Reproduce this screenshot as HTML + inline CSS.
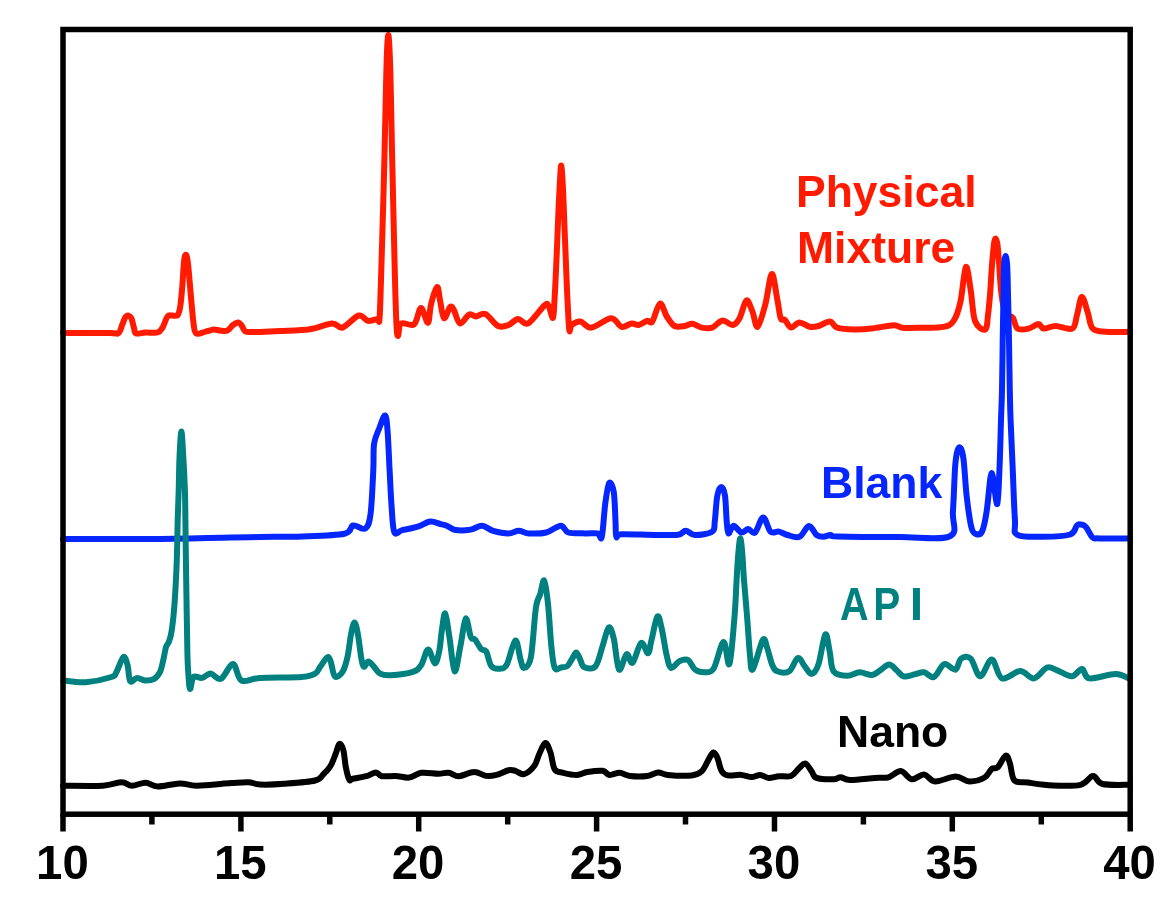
<!DOCTYPE html>
<html><head><meta charset="utf-8"><style>
html,body{margin:0;padding:0;background:#fff;width:1168px;height:915px;overflow:hidden}
svg{display:block;filter:blur(0.5px)}
</style></head><body>
<svg width="1168" height="915" viewBox="0 0 1168 915">
<rect width="1168" height="915" fill="#fff"/>
<path d="M63.0,333.0 C70.8,333.0 100.8,333.0 110.0,333.0 C119.2,333.0 116.4,334.5 118.5,333.0 C120.6,331.5 121.3,326.7 122.5,324.0 C123.7,321.3 124.5,318.4 125.5,317.0 C126.5,315.6 127.5,315.2 128.5,315.5 C129.5,315.8 130.6,316.4 131.5,318.5 C132.4,320.6 133.2,325.5 134.0,328.0 C134.8,330.5 134.1,332.8 136.0,333.5 C137.9,334.2 142.0,332.7 145.6,332.5 C149.2,332.3 154.8,333.4 157.6,332.5 C160.4,331.6 161.0,330.0 162.7,327.3 C164.3,324.6 165.9,318.5 167.5,316.5 C169.1,314.5 170.3,315.7 172.0,315.5 C173.7,315.3 176.2,316.6 177.5,315.3 C178.8,314.1 179.2,312.2 180.0,308.0 C180.8,303.8 181.3,297.7 182.0,290.0 C182.7,282.3 183.4,267.9 184.0,262.0 C184.6,256.1 185.2,254.8 185.8,254.8 C186.4,254.8 187.0,255.9 187.8,262.0 C188.6,268.1 189.6,281.4 190.5,291.4 C191.4,301.4 192.5,315.2 193.4,322.2 C194.3,329.2 194.1,331.7 196.1,333.3 C198.1,334.9 202.6,332.2 205.5,331.6 C208.4,331.0 211.3,329.7 213.7,329.5 C216.1,329.3 217.7,330.3 220.0,330.5 C222.3,330.7 225.2,331.4 227.4,330.5 C229.6,329.6 231.2,326.3 233.0,325.0 C234.8,323.7 236.9,322.3 238.4,322.5 C239.9,322.7 240.9,324.5 242.0,326.0 C243.1,327.5 243.5,330.3 245.2,331.3 C246.9,332.3 249.5,331.9 252.0,332.0 C254.5,332.1 255.3,332.2 260.0,332.0 C264.7,331.8 271.7,331.4 280.0,331.0 C288.3,330.6 301.3,330.6 310.0,329.3 C318.7,328.0 326.6,323.7 332.0,323.4 C337.4,323.1 338.1,328.9 342.5,327.6 C346.9,326.3 354.4,316.6 358.7,315.5 C362.9,314.4 364.9,320.2 368.0,320.8 C371.1,321.4 375.7,319.3 377.6,319.0 C379.5,318.7 378.9,325.5 379.5,319.0 C380.1,312.5 380.3,301.5 381.0,280.0 C381.7,258.5 383.0,211.7 383.6,190.0 C384.2,168.3 384.3,163.3 384.6,150.0 C384.9,136.7 385.2,123.3 385.5,110.0 C385.8,96.7 386.1,80.5 386.4,70.0 C386.7,59.5 386.9,52.8 387.2,47.0 C387.5,41.2 387.9,35.0 388.3,35.0 C388.7,35.0 389.1,41.2 389.4,47.0 C389.7,52.8 390.0,59.5 390.3,70.0 C390.6,80.5 390.9,96.7 391.2,110.0 C391.5,123.3 391.7,136.7 392.0,150.0 C392.3,163.3 392.4,168.3 392.9,190.0 C393.4,211.7 394.4,257.5 395.0,280.0 C395.6,302.5 396.0,315.7 396.5,325.0 C397.0,334.3 397.3,336.2 398.1,336.0 C398.9,335.8 398.4,325.4 401.1,323.5 C403.8,321.6 410.8,326.9 414.1,324.3 C417.4,321.7 418.7,308.2 421.0,308.0 C423.3,307.8 426.2,323.4 427.9,322.8 C429.6,322.2 429.5,310.4 431.0,304.4 C432.5,298.4 435.6,287.6 437.1,287.0 C438.6,286.4 439.0,295.4 440.1,300.6 C441.2,305.8 442.3,317.1 444.0,318.2 C445.7,319.3 448.5,308.4 450.1,307.0 C451.8,305.6 452.2,307.2 453.9,310.0 C455.5,312.8 457.4,322.8 460.0,323.5 C462.6,324.2 466.5,315.6 469.2,314.4 C471.9,313.2 473.3,316.6 476.0,316.5 C478.7,316.4 481.7,312.4 485.4,314.0 C489.1,315.6 494.3,324.2 498.2,326.0 C502.1,327.8 505.2,326.2 508.5,325.0 C511.8,323.8 514.7,319.3 518.0,319.0 C521.3,318.7 523.8,325.7 528.2,323.4 C532.6,321.1 541.1,308.3 544.5,305.4 C547.9,302.5 547.3,304.1 548.7,306.2 C550.1,308.3 552.0,319.0 553.0,318.0 C554.0,317.0 554.0,307.2 554.5,300.0 C555.0,292.8 555.3,285.0 555.8,275.0 C556.3,265.0 556.8,251.7 557.3,240.0 C557.8,228.3 558.2,215.0 558.7,205.0 C559.2,195.0 559.6,186.6 560.0,180.0 C560.4,173.4 560.8,165.5 561.2,165.5 C561.6,165.5 562.1,173.4 562.5,180.0 C562.9,186.6 563.3,195.0 563.7,205.0 C564.1,215.0 564.5,228.3 565.0,240.0 C565.5,251.7 566.0,265.0 566.4,275.0 C566.8,285.0 567.0,290.8 567.5,300.0 C568.0,309.2 568.6,325.8 569.3,330.0 C570.0,334.2 569.9,326.4 571.8,325.0 C573.6,323.6 577.1,321.2 580.4,321.6 C583.7,322.0 586.4,328.2 591.5,327.6 C596.6,327.0 606.2,318.3 611.2,318.2 C616.2,318.1 618.1,325.9 621.5,326.8 C624.9,327.7 628.9,323.7 631.8,323.4 C634.6,323.1 636.0,325.4 638.6,325.0 C641.2,324.6 644.8,321.4 647.1,320.8 C649.4,320.2 650.1,324.5 652.3,321.6 C654.4,318.7 657.6,304.4 660.0,303.5 C662.4,302.6 664.4,312.8 666.8,316.5 C669.2,320.2 671.5,324.4 674.5,326.0 C677.5,327.6 681.8,326.4 684.8,326.0 C687.8,325.6 689.6,323.4 692.5,323.7 C695.4,324.0 698.6,327.0 701.9,327.6 C705.2,328.2 708.8,328.8 712.2,327.6 C715.6,326.4 719.1,320.9 722.5,320.5 C725.9,320.1 729.9,325.4 732.7,325.0 C735.6,324.6 737.3,322.3 739.6,318.2 C741.9,314.1 744.3,301.6 746.4,300.5 C748.5,299.4 750.5,307.0 752.4,311.4 C754.3,315.8 755.5,327.9 757.6,326.8 C759.8,325.7 762.9,313.3 765.3,304.5 C767.7,295.7 769.8,274.9 771.8,274.0 C773.8,273.1 775.8,292.0 777.3,299.4 C778.8,306.8 779.4,314.8 780.7,318.2 C782.0,321.6 783.3,318.4 785.0,320.0 C786.7,321.6 788.6,327.2 791.0,327.6 C793.4,328.0 796.4,322.6 799.5,322.5 C802.6,322.4 806.6,326.2 809.8,326.8 C812.9,327.4 815.0,326.9 818.4,326.0 C821.8,325.1 826.9,321.3 830.0,321.6 C833.1,321.9 833.1,326.4 837.1,327.7 C841.1,329.0 848.5,329.4 854.2,329.5 C859.9,329.6 864.8,329.3 871.4,328.6 C878.0,327.9 888.5,325.4 893.6,325.2 C898.7,325.0 897.4,327.3 902.2,327.7 C907.1,328.1 915.9,327.8 922.7,327.7 C929.6,327.6 938.1,328.0 943.3,326.9 C948.4,325.8 950.8,325.0 953.6,320.9 C956.5,316.8 958.4,311.0 960.4,302.0 C962.4,293.0 964.2,269.0 965.9,267.0 C967.6,265.0 969.2,281.0 970.7,290.0 C972.2,299.0 972.6,314.3 975.0,320.9 C977.4,327.5 983.0,330.5 985.2,329.5 C987.4,328.5 987.2,320.8 988.0,315.0 C988.8,309.2 989.3,303.3 990.0,295.0 C990.7,286.7 991.3,273.5 992.0,265.0 C992.7,256.5 993.4,248.4 994.0,244.0 C994.6,239.6 995.2,238.3 995.8,238.5 C996.4,238.7 997.0,241.1 997.5,245.0 C998.0,248.9 998.4,254.5 999.0,262.0 C999.6,269.5 1000.2,282.3 1001.0,290.0 C1001.8,297.7 1002.8,303.8 1004.0,308.0 C1005.2,312.2 1006.5,313.3 1008.0,315.0 C1009.5,316.7 1011.4,315.7 1013.0,318.0 C1014.6,320.3 1015.0,326.8 1017.6,328.6 C1020.2,330.4 1025.1,329.4 1028.5,328.6 C1031.9,327.9 1035.6,324.1 1038.2,324.1 C1040.8,324.1 1041.0,328.3 1043.9,328.6 C1046.8,328.9 1050.8,326.0 1055.5,326.0 C1060.2,326.0 1068.6,330.4 1072.2,328.6 C1075.8,326.8 1075.4,320.3 1077.0,315.0 C1078.6,309.7 1080.0,297.5 1081.8,297.0 C1083.6,296.5 1085.8,306.6 1087.6,311.9 C1089.4,317.2 1089.7,325.3 1092.7,328.6 C1095.7,331.9 1099.4,331.3 1105.6,331.8 C1111.8,332.3 1125.9,331.8 1130.0,331.8" fill="none" stroke="#ff1a00" stroke-width="6.0" stroke-linejoin="round" stroke-linecap="round"/>
<path d="M63.0,539.0 C77.5,539.0 122.0,539.2 150.0,539.0 C178.0,538.8 212.7,537.8 231.0,537.5 C249.3,537.2 248.1,537.2 260.0,537.0 C271.9,536.8 288.3,536.9 302.4,536.4 C316.5,535.9 335.9,535.5 344.4,533.7 C352.8,531.9 349.6,526.4 353.1,525.5 C356.6,524.6 362.5,530.5 365.4,528.5 C368.3,526.5 369.3,523.4 370.6,513.6 C371.9,503.9 372.7,481.6 373.3,470.0 C373.9,458.4 373.1,450.7 374.1,443.7 C375.1,436.7 377.6,432.7 379.4,428.0 C381.2,423.3 383.6,415.2 385.0,415.5 C386.4,415.8 386.7,420.9 387.5,430.0 C388.3,439.1 388.9,457.5 389.6,470.0 C390.3,482.5 390.7,494.7 391.5,505.0 C392.3,515.3 392.5,527.8 394.3,532.0 C396.1,536.2 398.2,531.1 402.1,530.2 C406.0,529.3 413.1,528.2 417.8,526.7 C422.5,525.2 426.3,521.9 430.1,521.5 C433.9,521.1 437.8,523.4 440.6,524.1 C443.4,524.8 444.3,524.7 446.8,525.7 C449.3,526.7 451.4,529.4 455.4,530.0 C459.4,530.6 466.4,530.3 470.8,529.6 C475.2,528.9 478.3,525.5 482.0,525.7 C485.7,525.9 488.7,529.5 493.1,530.8 C497.5,532.1 504.2,533.4 508.5,533.4 C512.8,533.4 515.4,530.8 518.8,530.8 C522.2,530.8 524.4,533.1 529.0,533.4 C533.6,533.7 540.9,533.8 546.2,532.5 C551.5,531.2 557.0,525.7 560.7,525.7 C564.4,525.7 564.3,531.2 568.4,532.5 C572.5,533.8 580.6,533.2 585.5,533.4 C590.4,533.5 594.8,532.8 597.5,533.4 C600.2,534.0 600.5,541.7 601.8,536.8 C603.1,531.9 604.0,513.2 605.2,504.2 C606.4,495.2 607.8,485.0 609.2,483.0 C610.6,481.0 612.8,485.9 613.8,492.3 C614.8,498.7 615.1,514.0 615.5,521.4 C615.9,528.8 615.4,534.7 616.4,536.8 C617.4,538.9 615.0,534.5 621.5,534.2 C628.0,533.9 646.3,534.9 655.7,535.0 C665.1,535.1 673.0,535.4 678.0,534.7 C683.0,534.0 682.9,530.8 685.7,530.8 C688.5,530.8 690.6,534.9 695.0,535.0 C699.4,535.1 708.9,533.9 712.2,531.6 C715.5,529.3 713.9,527.4 714.8,521.4 C715.6,515.4 716.2,501.4 717.3,495.7 C718.4,490.0 720.0,487.0 721.3,487.0 C722.6,487.0 724.1,490.0 725.0,495.7 C725.9,501.4 726.1,515.1 726.7,521.4 C727.3,527.7 727.4,532.7 728.5,533.4 C729.6,534.1 731.5,525.9 733.6,525.7 C735.7,525.6 738.9,531.9 741.3,532.5 C743.7,533.1 745.9,529.1 748.2,529.1 C750.5,529.1 752.5,534.4 755.0,532.5 C757.5,530.6 760.6,517.6 763.2,517.5 C765.8,517.4 767.8,529.2 770.4,531.6 C773.0,534.0 776.1,531.0 779.0,531.6 C781.9,532.2 784.1,534.1 787.5,535.0 C790.9,535.9 795.9,538.3 799.5,536.8 C803.1,535.3 806.0,526.3 808.9,526.0 C811.8,525.7 814.2,533.2 816.6,535.0 C819.0,536.8 821.2,536.8 823.5,536.8 C825.8,536.8 828.1,535.0 830.5,535.0 C832.9,535.0 826.4,536.2 838.0,536.5 C849.6,536.8 881.4,537.0 900.0,537.0 C918.6,537.0 941.1,540.4 949.9,536.2 C958.7,532.0 952.0,523.4 952.9,511.7 C953.8,500.0 954.4,476.1 955.2,465.9 C956.0,455.7 956.6,453.6 957.5,450.6 C958.4,447.6 959.6,446.5 960.6,448.0 C961.6,449.5 962.6,451.7 963.6,459.8 C964.6,467.9 965.4,485.3 966.7,496.5 C968.0,507.7 969.8,520.8 971.3,527.0 C972.8,533.2 974.1,533.1 975.9,533.9 C977.7,534.7 980.2,535.3 982.0,531.6 C983.8,527.9 985.2,520.6 986.6,511.7 C988.0,502.8 989.4,484.1 990.4,478.1 C991.4,472.2 991.6,471.7 992.7,476.0 C993.9,480.3 996.1,505.8 997.3,504.1 C998.4,502.4 999.0,479.9 999.6,465.9 C1000.2,451.9 1000.6,432.6 1001.0,420.0 C1001.4,407.4 1001.7,403.3 1002.0,390.0 C1002.3,376.7 1002.5,356.0 1002.7,340.0 C1003.0,324.0 1003.3,306.3 1003.5,294.0 C1003.7,281.7 1003.8,272.3 1004.1,266.0 C1004.5,259.7 1005.1,256.0 1005.6,256.0 C1006.1,256.0 1006.8,259.7 1007.2,266.0 C1007.6,272.3 1007.7,281.7 1008.0,294.0 C1008.3,306.3 1008.7,324.0 1009.0,340.0 C1009.3,356.0 1009.5,376.7 1009.8,390.0 C1010.1,403.3 1010.1,407.4 1010.6,420.0 C1011.1,432.6 1011.9,449.3 1012.6,465.9 C1013.3,482.5 1014.1,507.9 1014.9,519.4 C1015.7,530.9 1012.5,531.8 1017.2,534.7 C1022.0,537.6 1034.6,536.8 1043.4,536.8 C1052.2,536.8 1064.5,536.4 1070.1,534.5 C1075.7,532.6 1075.0,527.3 1076.8,525.6 C1078.6,523.9 1079.2,524.3 1080.7,524.5 C1082.2,524.7 1083.8,524.6 1085.7,526.7 C1087.7,528.8 1090.2,535.3 1092.4,537.3 C1094.6,539.2 1092.7,538.2 1099.0,538.4 C1105.3,538.6 1124.8,538.4 1130.0,538.4" fill="none" stroke="#0526ff" stroke-width="6.0" stroke-linejoin="round" stroke-linecap="round"/>
<path d="M63.4,680.5 C67.1,680.8 77.7,682.8 85.7,682.2 C93.7,681.6 106.3,678.7 111.4,677.0 C116.5,675.3 114.5,675.2 116.5,671.9 C118.5,668.6 121.6,658.1 123.4,657.0 C125.2,655.9 126.5,661.1 127.6,665.1 C128.7,669.1 128.6,679.2 130.2,681.3 C131.8,683.4 134.5,678.0 137.1,677.9 C139.7,677.8 142.8,680.4 145.6,680.5 C148.4,680.6 151.8,680.2 154.2,678.8 C156.6,677.4 158.5,675.1 160.0,672.0 C161.5,668.9 162.3,664.2 163.3,660.0 C164.3,655.8 165.1,650.1 166.0,647.0 C166.9,643.9 168.0,644.3 169.0,641.5 C170.0,638.7 170.8,636.9 171.8,630.0 C172.8,623.1 174.0,611.7 174.8,600.0 C175.6,588.3 176.3,573.3 176.8,560.0 C177.3,546.7 177.4,531.7 177.7,520.0 C178.0,508.3 178.4,500.8 178.7,490.0 C179.0,479.2 179.1,464.8 179.6,455.0 C180.1,445.2 180.8,431.5 181.4,431.5 C182.0,431.5 182.6,445.2 183.2,455.0 C183.8,464.8 184.5,479.2 184.9,490.0 C185.3,500.8 185.2,508.3 185.4,520.0 C185.6,531.7 185.7,546.7 185.9,560.0 C186.1,573.3 186.3,588.3 186.5,600.0 C186.7,611.7 186.8,620.0 187.0,630.0 C187.2,640.0 187.3,652.3 187.6,660.0 C187.8,667.7 188.1,671.2 188.5,676.0 C188.9,680.8 189.2,688.8 190.1,689.0 C190.9,689.2 191.6,678.9 193.6,677.0 C195.6,675.1 199.2,678.5 202.1,677.9 C204.9,677.3 207.5,673.5 210.7,673.6 C213.8,673.8 217.3,680.4 221.0,678.8 C224.7,677.2 229.6,663.7 233.0,664.0 C236.4,664.3 237.0,678.2 241.5,680.5 C246.0,682.8 250.0,678.5 260.0,677.9 C270.0,677.3 292.2,677.7 301.4,677.0 C310.6,676.3 312.0,675.3 315.1,673.6 C318.2,671.9 318.2,669.5 320.2,666.8 C322.2,664.1 325.4,658.5 327.1,657.5 C328.8,656.5 329.2,657.7 330.5,660.8 C331.8,663.9 332.8,674.4 334.8,676.2 C336.8,678.1 340.4,675.2 342.5,671.9 C344.6,668.6 346.2,662.8 347.6,656.5 C349.0,650.2 349.9,639.9 351.0,634.2 C352.1,628.5 353.4,622.5 354.5,622.5 C355.6,622.5 356.8,628.2 357.9,634.2 C359.0,640.2 360.3,652.8 361.3,658.2 C362.3,663.6 362.8,666.2 363.9,666.8 C365.0,667.4 366.6,661.8 368.2,661.6 C369.8,661.5 371.3,663.9 373.3,665.9 C375.3,667.9 377.2,672.0 380.1,673.6 C383.0,675.2 385.0,675.6 390.4,675.3 C395.8,675.0 407.6,673.6 412.7,671.9 C417.8,670.2 418.6,668.8 421.2,665.1 C423.8,661.4 425.8,649.8 428.1,649.5 C430.4,649.2 433.0,663.1 434.9,663.4 C436.8,663.7 438.0,656.8 439.2,651.4 C440.4,646.0 440.8,637.1 441.8,630.8 C442.8,624.5 443.9,612.5 445.2,613.5 C446.5,614.5 447.8,627.4 449.4,637.0 C451.0,646.6 452.8,669.9 454.6,671.3 C456.5,672.7 458.6,654.4 460.5,645.6 C462.4,636.8 464.0,619.9 465.7,618.5 C467.4,617.1 469.2,633.5 470.8,637.0 C472.4,640.5 473.4,637.6 475.1,639.6 C476.8,641.6 479.2,647.0 481.1,649.0 C483.0,651.0 484.5,648.7 486.2,651.6 C487.9,654.5 489.1,663.4 491.4,666.2 C493.7,669.1 497.3,669.0 499.9,668.7 C502.5,668.4 504.2,669.2 506.8,664.5 C509.4,659.8 513.0,641.4 515.3,640.5 C517.6,639.6 519.1,654.7 520.5,659.3 C521.9,663.9 522.2,668.2 523.9,667.9 C525.6,667.6 528.8,667.6 530.8,657.6 C532.8,647.6 534.3,618.5 535.9,607.9 C537.5,597.3 538.8,598.8 540.2,594.2 C541.6,589.6 542.8,579.1 544.1,580.5 C545.4,581.9 546.7,591.9 547.9,602.8 C549.1,613.6 550.2,634.8 551.3,645.6 C552.4,656.5 553.1,664.2 554.7,667.9 C556.3,671.5 558.9,667.8 561.0,667.5 C563.1,667.2 565.7,667.4 567.5,666.0 C569.3,664.6 570.5,661.2 572.0,659.0 C573.5,656.8 574.9,652.5 576.2,652.5 C577.5,652.5 578.7,656.6 580.0,659.0 C581.3,661.4 581.4,665.8 584.0,667.0 C586.6,668.2 592.4,669.8 595.5,666.2 C598.6,662.6 600.5,652.1 602.7,645.6 C604.9,639.1 606.9,628.6 608.7,627.5 C610.6,626.4 612.1,631.8 613.8,638.8 C615.5,645.8 616.9,667.0 619.0,669.6 C621.1,672.2 624.3,655.4 626.6,654.2 C628.9,653.1 630.2,664.6 632.6,662.7 C635.0,660.8 638.5,644.6 641.1,643.0 C643.7,641.4 646.3,653.7 648.0,653.3 C649.7,652.9 649.8,646.6 651.4,640.5 C653.0,634.4 655.7,618.5 657.4,616.5 C659.1,614.5 660.1,621.9 661.7,628.5 C663.3,635.1 665.2,649.3 666.8,655.9 C668.4,662.5 669.0,667.0 671.1,667.9 C673.2,668.8 676.9,662.3 679.7,661.0 C682.6,659.7 685.6,658.8 688.2,660.2 C690.8,661.6 692.2,667.6 695.1,669.6 C698.0,671.6 702.2,672.4 705.3,672.2 C708.4,672.0 710.8,673.3 713.8,668.3 C716.8,663.3 720.9,642.7 723.5,642.0 C726.1,641.3 727.6,668.0 729.4,664.0 C731.2,660.0 733.2,632.2 734.4,618.2 C735.6,604.2 736.0,590.5 736.6,580.0 C737.2,569.5 737.6,562.0 738.2,555.0 C738.8,548.0 739.6,538.3 740.3,538.3 C741.0,538.3 741.8,548.0 742.4,555.0 C743.0,562.0 743.2,569.5 744.0,580.0 C744.8,590.5 746.2,605.8 747.2,618.2 C748.2,630.6 749.0,645.7 749.9,654.2 C750.8,662.8 750.6,671.9 752.7,669.5 C754.9,667.1 760.4,643.7 762.8,640.0 C765.2,636.3 765.5,643.2 767.0,647.3 C768.5,651.4 770.4,660.5 772.1,664.5 C773.8,668.5 774.4,670.2 777.3,671.3 C780.1,672.4 785.8,673.5 789.2,671.3 C792.6,669.1 795.2,658.9 797.8,658.0 C800.4,657.1 802.4,663.6 804.7,666.2 C807.0,668.9 809.2,674.2 811.5,673.9 C813.8,673.6 816.1,671.1 818.4,664.5 C820.7,657.9 823.4,636.7 825.3,634.5 C827.2,632.3 828.2,644.9 829.6,651.1 C831.0,657.3 830.7,667.5 833.7,671.6 C836.7,675.7 843.1,675.7 847.4,675.8 C851.7,675.9 855.6,672.4 859.7,672.3 C863.8,672.2 868.7,675.4 872.1,675.1 C875.5,674.8 877.4,672.1 880.3,670.3 C883.1,668.5 886.5,664.5 889.2,664.5 C891.9,664.5 894.3,668.3 896.7,670.3 C899.1,672.3 900.6,675.7 903.6,676.4 C906.6,677.1 911.1,675.1 914.5,674.4 C917.9,673.7 920.9,671.8 924.1,672.3 C927.3,672.8 930.7,678.1 933.7,677.1 C936.7,676.1 939.9,668.4 941.9,666.2 C943.9,664.0 943.7,663.5 946.0,664.1 C948.3,664.7 953.1,670.5 955.6,669.6 C958.1,668.7 958.6,660.4 961.1,658.6 C963.6,656.8 967.5,655.7 970.7,658.6 C973.9,661.5 976.7,676.1 980.2,676.2 C983.7,676.4 988.2,659.1 991.8,659.5 C995.4,659.9 997.3,676.5 1002.0,678.4 C1006.7,680.3 1014.9,671.1 1020.2,671.1 C1025.5,671.1 1029.5,679.0 1034.0,678.4 C1038.5,677.8 1043.2,668.8 1047.1,667.5 C1051.0,666.2 1053.2,668.9 1057.3,670.4 C1061.4,671.9 1067.8,676.4 1071.9,676.2 C1076.0,676.0 1079.2,668.6 1082.1,669.0 C1085.0,669.4 1083.8,677.6 1089.4,678.4 C1095.0,679.2 1108.8,673.9 1115.6,674.0 C1122.4,674.1 1127.6,678.2 1130.0,679.1" fill="none" stroke="#00807f" stroke-width="6.0" stroke-linejoin="round" stroke-linecap="round"/>
<path d="M63.0,785.7 C69.6,785.7 93.0,786.3 102.8,785.7 C112.6,785.1 116.8,782.2 121.6,782.2 C126.4,782.2 127.9,785.6 131.9,785.7 C135.9,785.8 141.3,782.6 145.6,782.7 C149.9,782.8 151.9,786.4 157.6,786.5 C163.3,786.6 173.3,783.5 179.9,783.4 C186.5,783.3 188.4,785.8 197.0,785.7 C205.6,785.7 222.6,783.7 231.2,783.1 C239.8,782.5 243.6,782.0 248.4,782.2 C253.2,782.4 254.0,784.2 260.0,784.5 C266.0,784.8 275.0,784.5 284.2,783.8 C293.4,783.1 308.5,782.1 315.1,780.5 C321.7,778.9 321.0,776.4 323.6,774.0 C326.2,771.6 328.5,769.3 330.5,766.0 C332.5,762.7 334.1,757.7 335.6,754.0 C337.1,750.3 338.1,744.7 339.4,744.0 C340.7,743.3 342.2,746.0 343.3,750.0 C344.4,754.0 344.9,762.8 345.9,767.7 C346.9,772.7 348.2,777.9 349.3,779.7 C350.4,781.6 349.9,779.4 352.7,778.8 C355.5,778.2 362.5,777.2 366.4,776.2 C370.3,775.2 373.3,772.5 375.9,772.5 C378.5,772.5 378.5,775.6 381.8,776.2 C385.1,776.8 390.9,775.7 395.5,775.9 C400.1,776.1 404.9,778.1 409.2,777.6 C413.5,777.1 416.3,773.4 421.2,772.8 C426.1,772.1 433.8,773.7 438.4,773.7 C443.0,773.7 445.2,772.4 448.6,772.8 C452.0,773.2 454.5,776.3 458.8,776.2 C463.1,776.1 469.6,772.0 474.2,772.0 C478.8,772.0 482.5,775.4 486.2,775.9 C489.9,776.4 492.8,775.8 496.5,774.9 C500.2,774.0 505.4,770.9 508.5,770.2 C511.6,769.5 512.7,770.1 515.3,770.8 C517.9,771.5 520.8,775.0 523.9,774.2 C527.0,773.4 531.6,769.4 534.2,766.0 C536.8,762.6 537.4,757.8 539.3,754.0 C541.1,750.2 543.4,743.3 545.3,743.0 C547.1,742.7 548.8,747.9 550.4,752.3 C552.0,756.7 552.6,766.0 554.7,769.4 C556.9,772.8 559.6,771.9 563.3,772.8 C567.0,773.7 573.0,775.0 577.0,774.9 C581.0,774.8 583.0,772.7 587.3,772.0 C591.6,771.3 599.0,770.3 602.7,770.8 C606.4,771.3 606.6,774.6 609.5,774.9 C612.4,775.2 616.4,772.6 619.8,772.8 C623.2,773.0 625.5,775.4 630.1,775.9 C634.7,776.4 642.4,776.5 647.1,775.9 C651.8,775.3 654.9,772.7 658.3,772.5 C661.7,772.3 662.2,774.4 667.7,774.9 C673.2,775.4 685.9,776.0 691.6,775.4 C697.3,774.8 699.0,773.8 701.9,771.1 C704.8,768.4 706.9,762.2 708.8,759.1 C710.7,756.0 712.0,752.8 713.4,752.5 C714.8,752.2 715.9,754.3 717.3,757.4 C718.7,760.5 719.9,768.1 721.6,771.1 C723.3,774.1 724.3,774.8 727.6,775.4 C730.9,776.0 737.3,774.6 741.3,774.9 C745.3,775.2 748.5,777.1 751.6,777.1 C754.7,777.1 757.2,774.8 760.1,774.9 C763.0,775.0 765.6,777.7 768.7,777.9 C771.9,778.1 775.3,776.5 779.0,776.2 C782.7,775.9 787.6,777.3 791.0,775.9 C794.4,774.5 797.1,769.8 799.5,767.7 C801.9,765.6 803.5,762.9 805.5,763.5 C807.5,764.1 809.6,768.7 811.5,771.1 C813.4,773.5 812.9,776.5 816.6,777.9 C820.3,779.3 829.7,779.4 833.7,779.3 C837.7,779.2 837.8,777.2 840.5,777.3 C843.2,777.4 844.4,779.9 850.1,780.0 C855.8,780.1 868.4,778.4 874.8,777.9 C881.2,777.4 884.2,778.4 888.5,777.3 C892.8,776.1 896.9,770.7 900.8,771.0 C904.7,771.3 907.9,778.7 911.8,779.3 C915.7,779.9 920.2,774.1 924.1,774.5 C928.0,774.9 929.9,781.0 935.1,781.4 C940.4,781.8 949.9,776.6 955.6,776.6 C961.3,776.6 964.5,781.2 969.3,781.4 C974.1,781.5 980.9,779.6 984.6,777.5 C988.4,775.4 989.6,770.5 991.8,768.8 C994.0,767.1 995.4,769.5 997.7,767.3 C1000.0,765.1 1003.7,756.1 1005.7,755.5 C1007.8,754.9 1008.5,759.6 1010.0,763.7 C1011.5,767.9 1011.4,777.2 1014.4,780.4 C1017.4,783.5 1021.8,781.8 1028.2,782.6 C1034.6,783.5 1044.3,785.1 1053.0,785.5 C1061.7,785.9 1073.9,786.4 1080.6,784.8 C1087.3,783.2 1089.3,776.1 1093.0,776.0 C1096.7,775.9 1096.3,782.5 1102.5,784.0 C1108.7,785.5 1125.4,784.7 1130.0,784.8" fill="none" stroke="#000" stroke-width="6.0" stroke-linejoin="round" stroke-linecap="round"/>
<rect x="63" y="29.5" width="1067.2" height="784.7" fill="none" stroke="#000" stroke-width="5.5"/>
<line x1="63.0" y1="814.2" x2="63.0" y2="831.5" stroke="#000" stroke-width="5.5" stroke-linecap="butt"/><line x1="151.9" y1="814.2" x2="151.9" y2="824.5" stroke="#000" stroke-width="5.5" stroke-linecap="butt"/><line x1="240.9" y1="814.2" x2="240.9" y2="831.5" stroke="#000" stroke-width="5.5" stroke-linecap="butt"/><line x1="329.8" y1="814.2" x2="329.8" y2="824.5" stroke="#000" stroke-width="5.5" stroke-linecap="butt"/><line x1="418.7" y1="814.2" x2="418.7" y2="831.5" stroke="#000" stroke-width="5.5" stroke-linecap="butt"/><line x1="507.7" y1="814.2" x2="507.7" y2="824.5" stroke="#000" stroke-width="5.5" stroke-linecap="butt"/><line x1="596.6" y1="814.2" x2="596.6" y2="831.5" stroke="#000" stroke-width="5.5" stroke-linecap="butt"/><line x1="685.5" y1="814.2" x2="685.5" y2="824.5" stroke="#000" stroke-width="5.5" stroke-linecap="butt"/><line x1="774.5" y1="814.2" x2="774.5" y2="831.5" stroke="#000" stroke-width="5.5" stroke-linecap="butt"/><line x1="863.4" y1="814.2" x2="863.4" y2="824.5" stroke="#000" stroke-width="5.5" stroke-linecap="butt"/><line x1="952.3" y1="814.2" x2="952.3" y2="831.5" stroke="#000" stroke-width="5.5" stroke-linecap="butt"/><line x1="1041.3" y1="814.2" x2="1041.3" y2="824.5" stroke="#000" stroke-width="5.5" stroke-linecap="butt"/><line x1="1130.2" y1="814.2" x2="1130.2" y2="831.5" stroke="#000" stroke-width="5.5" stroke-linecap="butt"/>
<g font-family="Liberation Sans, sans-serif" font-weight="bold" font-size="48.8" fill="#000"><text transform="translate(62.4,878.8) scale(0.97,1)" text-anchor="middle">10</text><text transform="translate(240.3,878.8) scale(0.97,1)" text-anchor="middle">15</text><text transform="translate(418.1,878.8) scale(0.97,1)" text-anchor="middle">20</text><text transform="translate(596.0,878.8) scale(0.97,1)" text-anchor="middle">25</text><text transform="translate(773.9,878.8) scale(0.97,1)" text-anchor="middle">30</text><text transform="translate(951.7,878.8) scale(0.97,1)" text-anchor="middle">35</text><text transform="translate(1129.6,878.8) scale(0.97,1)" text-anchor="middle">40</text></g>
<g font-family="Liberation Sans, sans-serif" font-weight="bold" font-size="44.5">
<text x="796" y="206.5" fill="#ff1a00">Physical</text>
<text x="797" y="262.5" fill="#ff1a00">Mixture</text>
<text x="821" y="498" fill="#0526ff">Blank</text>
<g fill="#00807f" font-size="46">
<text transform="translate(839.92,619.8) scale(0.86,1)">A</text>
<text transform="translate(873.17,619.8) scale(0.88,1)">P</text>
<text transform="translate(909.64,619.8) scale(1.05,1)">I</text>
</g>
<text x="837" y="746.8" fill="#000">Nano</text>
</g>
</svg>
</body></html>
